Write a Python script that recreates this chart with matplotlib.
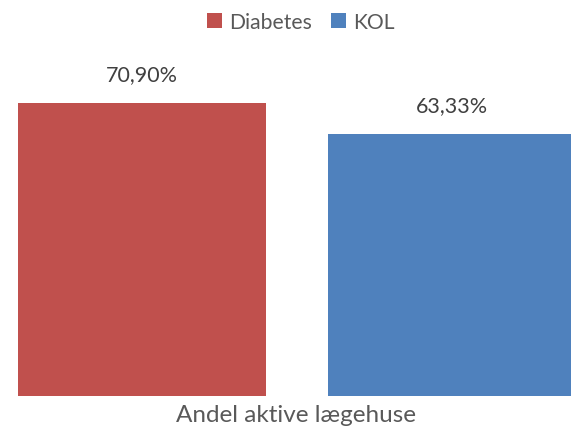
import matplotlib.pyplot as plt
from matplotlib.patches import Patch

# Data
series = ['Diabetes', 'KOL']
values = [70.90, 63.33]
colors = ['#C0504D', '#4F81BD']
category = 'Andel aktive lægehuse'

plt.rcParams['font.family'] = ['Lato', 'DejaVu Sans']
text_color = '#595959'

fig = plt.figure(figsize=(5.71, 4.31), dpi=100)
# axes spans full width, baseline at y=396.5 px, top at y=40 px
ax = fig.add_axes([0, (431 - 396.5) / 431, 1, (396.5 - 40) / 431])

width = 0.8
positions = [0, 1]
bars = ax.bar(positions, values, width=width, color=colors)

for bar, v in zip(bars, values):
    label = f'{v:.2f}%'.replace('.', ',')
    ax.annotate(label, (bar.get_x() + bar.get_width() / 2, v),
                xytext=(0, 13.5), textcoords='offset points',
                ha='center', va='bottom', fontsize=15.5, color='#404040')

ax.set_xlim(-141.5 / 310, (571 - 141.5) / 310)
ax.set_ylim(0, (396.5 - 40) / 4.13)
ax.axis('off')

# category label under the group
ax.text(0.5, -2.0, category, ha='center', va='top', fontsize=17.5,
        color=text_color, transform=ax.transData)

handles = [Patch(facecolor=c, label=s) for s, c in zip(series, colors)]
fig.legend(handles=handles, loc='upper center', bbox_to_anchor=(301 / 571, 1.015),
           ncol=2, frameon=False, fontsize=15.2, handlelength=0.7, handleheight=0.7,
           handletextpad=0.35, columnspacing=0.9, labelcolor=text_color)

fig.savefig('out.png', dpi=100)
